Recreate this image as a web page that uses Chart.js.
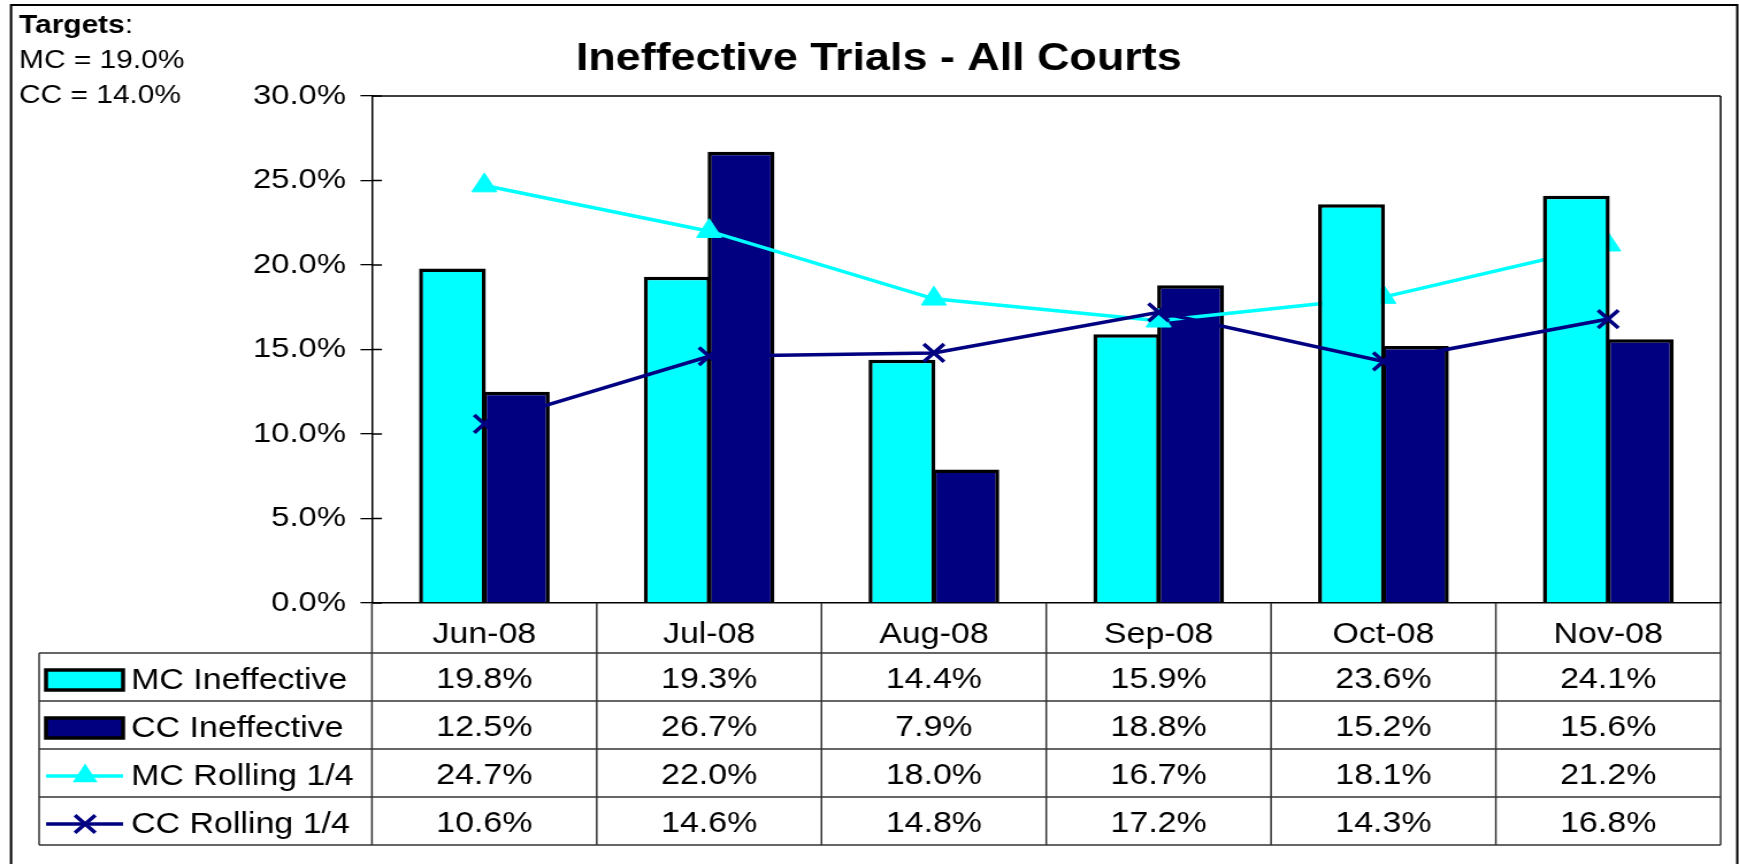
<!DOCTYPE html>
<html>
<head>
<meta charset="utf-8">
<title>Ineffective Trials - All Courts</title>
<script src="https://cdn.jsdelivr.net/npm/chart.js@4.4.1/dist/chart.umd.min.js"></script>
<style>
  html, body { margin: 0; padding: 0; background: #fff; overflow: hidden; }
</style>
</head>
<body>
<!-- drawn at 1512 wide and stretched to 1739, like the original sheet -->
<canvas id="chart" width="1512" height="864" style="width:1739px;height:864px;display:block"></canvas>
<script>
const categories = ["Jun-08", "Jul-08", "Aug-08", "Sep-08", "Oct-08", "Nov-08"];
const mcIneffective = [19.8, 19.3, 14.4, 15.9, 23.6, 24.1];
const ccIneffective = [12.5, 26.7, 7.9, 18.8, 15.2, 15.6];
const mcRolling = [24.7, 22.0, 18.0, 16.7, 18.1, 21.2];
const ccRolling = [10.6, 14.6, 14.8, 17.2, 14.3, 16.8];
const yTicks = [0, 5, 10, 15, 20, 25, 30];
const targetLines = ["MC = 19.0%", "CC = 14.0%"];

const FONT = '"Liberation Sans", Arial, sans-serif';
const CYAN = "#00FFFF";
const NAVY = "#000080";
const pct = (v) => v.toFixed(1) + "%";

const tableRows = [
  { label: "MC Ineffective", values: mcIneffective, kind: "bar", color: CYAN },
  { label: "CC Ineffective", values: ccIneffective, kind: "bar", color: NAVY },
  { label: "MC Rolling 1/4", values: mcRolling, kind: "triangle", color: CYAN },
  { label: "CC Rolling 1/4", values: ccRolling, kind: "cross", color: NAVY },
];

function line(ctx, x1, y1, x2, y2) {
  ctx.beginPath();
  ctx.moveTo(x1, y1);
  ctx.lineTo(x2, y2);
  ctx.stroke();
}

const framePlugin = {
  id: "frame",
  beforeDraw(chart) {
    const { ctx } = chart;
    ctx.save();
    ctx.fillStyle = "#fff";
    ctx.fillRect(0, 0, chart.width, chart.height);
    ctx.strokeStyle = "#000";
    ctx.lineWidth = 2;
    ctx.strokeRect(9.6, 5, 1500.9, 900);

    ctx.fillStyle = "#000";
    ctx.textAlign = "center";
    ctx.font = "bold 39px " + FONT;
    ctx.fillText("Ineffective Trials - All Courts", 764, 69.5);

    ctx.textAlign = "left";
    ctx.font = "bold 26px " + FONT;
    ctx.fillText("Targets", 16.5, 33);
    const w = ctx.measureText("Targets").width;
    ctx.font = "26px " + FONT;
    ctx.fillText(":", 16.5 + w, 33);
    ctx.fillText(targetLines[0], 16.5, 68);
    ctx.fillText(targetLines[1], 16.5, 103);
    ctx.restore();
  },
};

const tablePlugin = {
  id: "dataTable",
  afterDraw(chart) {
    const { ctx, chartArea: a, scales } = chart;
    const xs = scales.x;
    const ys = scales.y;
    const catW = (a.right - a.left) / categories.length;
    const rowTop = a.bottom + 50;
    const rowH = 48;
    const tableLeft = 34;
    const tableBottom = rowTop + rowH * tableRows.length;

    ctx.save();
    // plot frame and inside halves of the tick marks
    ctx.strokeStyle = "#000";
    ctx.lineWidth = 1.5;
    line(ctx, a.left, a.top, a.right, a.top);
    line(ctx, a.right, a.top, a.right, a.bottom);
    ys.ticks.forEach((t) => {
      const py = ys.getPixelForValue(t.value);
      line(ctx, a.left, py, a.left + 8.7, py);
    });

    // table grid
    ctx.strokeStyle = "#333";
    ctx.lineWidth = 1.5;
    for (let i = 0; i <= categories.length; i++) {
      const px = a.left + i * catW;
      line(ctx, px, a.bottom, px, tableBottom);
    }
    for (let r = 0; r <= tableRows.length; r++) {
      const py = rowTop + r * rowH;
      line(ctx, tableLeft, py, a.right, py);
    }
    line(ctx, tableLeft, rowTop, tableLeft, tableBottom);

    // rows: legend key, label, values
    tableRows.forEach((row, r) => {
      const cy = rowTop + r * rowH + rowH / 2;
      const ky = cy + 3;
      if (row.kind === "bar") {
        ctx.fillStyle = row.color;
        ctx.fillRect(40, ky - 10, 67, 20);
        ctx.strokeStyle = "#000";
        ctx.lineWidth = 3.5;
        ctx.strokeRect(40, ky - 10, 67, 20);
      } else {
        ctx.strokeStyle = row.color;
        ctx.lineWidth = 3.3;
        line(ctx, 40, ky, 107, ky);
        const mx = 74;
        if (row.kind === "triangle") {
          const rr = 12.5;
          ctx.fillStyle = row.color;
          ctx.beginPath();
          ctx.moveTo(mx, ky - rr);
          ctx.lineTo(mx + rr * 0.866, ky + rr / 2);
          ctx.lineTo(mx - rr * 0.866, ky + rr / 2);
          ctx.closePath();
          ctx.fill();
        } else {
          const d = 12.5 * Math.SQRT1_2;
          ctx.lineWidth = 3.5;
          line(ctx, mx - d, ky - d, mx + d, ky + d);
          line(ctx, mx - d, ky + d, mx + d, ky - d);
        }
      }
      ctx.fillStyle = "#000";
      ctx.font = "29.5px " + FONT;
      ctx.textAlign = "left";
      ctx.fillText(row.label, 114, cy + 12);
      ctx.textAlign = "center";
      row.values.forEach((v, i) => {
        ctx.fillText(pct(v), xs.getPixelForValue(i), cy + 11);
      });
    });
    ctx.restore();
  },
};

new Chart(document.getElementById("chart"), {
  data: {
    labels: categories,
    datasets: [
      {
        type: "bar",
        label: "MC Ineffective",
        data: mcIneffective,
        backgroundColor: CYAN,
        borderColor: "#000",
        borderWidth: 3.5,
        categoryPercentage: 0.568,
        barPercentage: 1.047,
        order: 2,
      },
      {
        type: "bar",
        label: "CC Ineffective",
        data: ccIneffective,
        backgroundColor: NAVY,
        borderColor: "#000",
        borderWidth: 3.5,
        categoryPercentage: 0.568,
        barPercentage: 1.047,
        order: 4,
      },
      {
        type: "line",
        label: "MC Rolling 1/4",
        data: mcRolling,
        borderColor: CYAN,
        borderWidth: 3.5,
        pointStyle: "triangle",
        pointRadius: 12.5,
        pointBackgroundColor: CYAN,
        pointBorderColor: CYAN,
        pointBorderWidth: 1,
        tension: 0,
        fill: false,
        order: 3,
      },
      {
        type: "line",
        label: "CC Rolling 1/4",
        data: ccRolling,
        borderColor: NAVY,
        borderWidth: 3.5,
        pointStyle: "crossRot",
        pointRadius: 12.5,
        pointBorderColor: NAVY,
        pointBorderWidth: 3.5,
        tension: 0,
        fill: false,
        order: 1,
      },
    ],
  },
  options: {
    responsive: false,
    devicePixelRatio: 1,
    animation: false,
    events: [],
    layout: { padding: { top: 96, right: 13.9, bottom: 211, left: 0 } },
    plugins: {
      legend: { display: false },
      title: { display: false },
      tooltip: { enabled: false },
    },
    scales: {
      x: {
        type: "category",
        grid: { display: false },
        border: { display: true, color: "#000", width: 1.5 },
        ticks: {
          color: "#000",
          font: { family: FONT, size: 29.5 },
          padding: 6,
          maxRotation: 0,
          autoSkip: false,
        },
        afterFit: (s) => { s.height = 50; },
      },
      y: {
        type: "linear",
        min: 0,
        max: 30,
        grid: {
          display: true,
          drawOnChartArea: false,
          drawTicks: true,
          tickLength: 10,
          color: "#000",
          lineWidth: 1.3,
        },
        border: { display: true, color: "#000", width: 1.5 },
        ticks: {
          color: "#000",
          font: { family: FONT, size: 28.5 },
          padding: 12.6,
          callback: (v) => pct(v),
        },
        afterBuildTicks: (s) => { s.ticks = yTicks.map((v) => ({ value: v })); },
        afterFit: (s) => { s.width = 323.4; },
      },
    },
  },
  plugins: [framePlugin, tablePlugin],
});
</script>
</body>
</html>
